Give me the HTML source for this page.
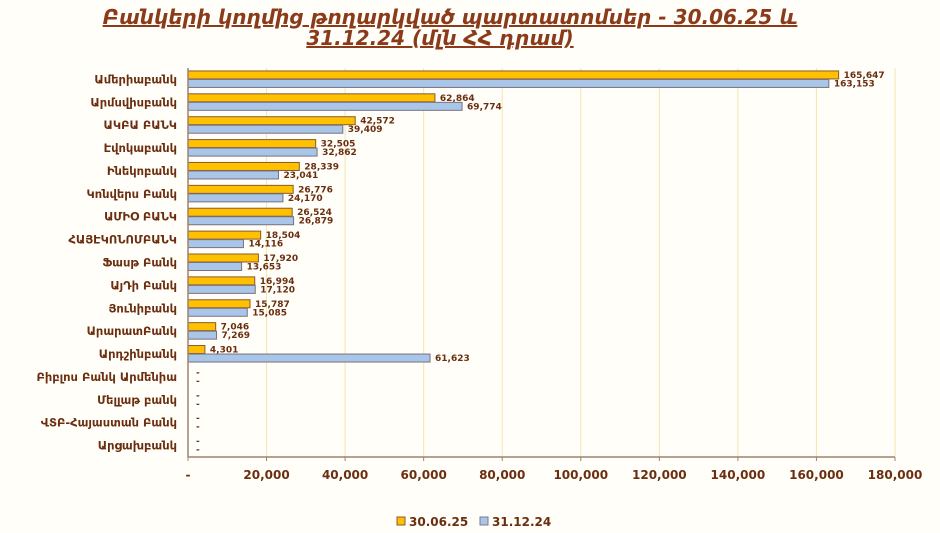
<!DOCTYPE html>
<html><head><meta charset="utf-8">
<style>
body{margin:0;background:#fffef8;}
svg text{font-family:"DejaVu Sans","Liberation Sans",sans-serif;}
</style></head>
<body>
<svg width="940" height="528" viewBox="0 0 940 528" xmlns="http://www.w3.org/2000/svg">
<rect x="0" y="0" width="940" height="528" fill="#fffef8"/>
<text x="450" y="24" text-anchor="middle" font-size="20" font-weight="bold" font-style="italic" fill="#8b3a1a" text-decoration="underline">Բանկերի կողմից թողարկված պարտատոմսեր  - 30.06.25 և</text>
<text x="440" y="45" text-anchor="middle" font-size="20" font-weight="bold" font-style="italic" fill="#8b3a1a" text-decoration="underline">31.12.24 (մլն  ՀՀ դրամ)</text>
<g id="grid"></g>
<g id="bars"></g>
<g id="cats"></g>
<g id="ticks"></g>
<line x1="188" y1="68" x2="188" y2="457" stroke="#a08070" stroke-width="1.5"/>
<line x1="188" y1="457" x2="895" y2="457" stroke="#a08070" stroke-width="1.5"/>
<g>
<rect x="397" y="517" width="8" height="8" fill="#ffc000" stroke="#8b5a2b"/>
<text x="409" y="526" font-size="12" font-weight="bold" fill="#6b2e10">30.06.25</text>
<rect x="480" y="517" width="8" height="8" fill="#a9c6e8" stroke="#7a7a8a"/>
<text x="492" y="526" font-size="12" font-weight="bold" fill="#6b2e10">31.12.24</text>
</g>
</svg>
<script>
const categories=["Ամերիաբանկ","Արմսվիսբանկ","ԱԿԲԱ ԲԱՆԿ","Էվոկաբանկ","Ինեկոբանկ","Կոնվերս Բանկ","ԱՄԻՕ ԲԱՆԿ","ՀԱՅԷԿՈՆՈՄԲԱՆԿ","Ֆասթ Բանկ","ԱյԴի Բանկ","Յունիբանկ","ԱրարատԲանկ","Արդշինբանկ","Բիբլոս Բանկ Արմենիա","Մելլաթ բանկ","ՎՏԲ-Հայաստան Բանկ","Արցախբանկ"];
const values2025=[165647,62864,42572,32505,28339,26776,26524,18504,17920,16994,15787,7046,4301,0,0,0,0];
const values2024=[163153,69774,39409,32862,23041,24170,26879,14116,13653,17120,15085,7269,61623,0,0,0,0];
const tickValues=[0,20000,40000,60000,80000,100000,120000,140000,160000,180000];
const tickLabels=["-","20,000","40,000","60,000","80,000","100,000","120,000","140,000","160,000","180,000"];
const NS="http://www.w3.org/2000/svg";
const x0=188,x1=895,yTop=68,yBot=457,xMax=180000;
const xs=v=>x0+(v/xMax)*(x1-x0);
const band=(yBot-yTop)/categories.length;
const yc=i=>yTop+band*(i+0.5);
function mk(t,a,p){const e=document.createElementNS(NS,t);for(const k in a)e.setAttribute(k,a[k]);p.appendChild(e);return e;}
const fmt=v=>v===0?"-":v.toLocaleString("en-US");
const grid=document.getElementById("grid"),ticks=document.getElementById("ticks"),bars=document.getElementById("bars"),cats=document.getElementById("cats");
tickValues.forEach((v,i)=>{
 if(v>0){const l=mk("line",{x1:xs(v),x2:xs(v),y1:yTop,y2:yBot,stroke:"#f3e6b0","stroke-width":1},grid);
 
 }
 const tm=mk("line",{x1:xs(v),x2:xs(v),y1:yBot,y2:yBot+4,stroke:"#a08070"},ticks);
 
 
 const t=mk("text",{x:xs(v),y:yBot+22,"text-anchor":"middle","font-size":"12","font-weight":"bold",fill:"#6b2e10"},ticks);
 t.textContent=tickLabels[i];
 
 
});
categories.forEach((c,i)=>{
 const y=yc(i);
 const t=mk("text",{x:177,y:y+4,"text-anchor":"end","font-size":"11.5","font-weight":"bold",fill:"#6b2e10"},cats);
 t.textContent=c;
 
 
 [[values2025[i],"#ffc000","#8b5a2b",-8.5,"bar-2025"],[values2024[i],"#a9c6e8","#7a7080",0,"bar-2024"]].forEach(([v,f,s,off,nm])=>{
  if(v>0){const r=mk("rect",{x:x0,y:y+off,width:xs(v)-x0,height:8,fill:f,stroke:s,"stroke-width":1},bars);
  
  }
  const lt=mk("text",{x:v>0?xs(v)+5:x0+8,y:y+off+7,"font-size":"9","font-weight":"bold",fill:"#6b2e10"},bars);
  lt.textContent=fmt(v);
  
  
 });
});
</script>
</body></html>
